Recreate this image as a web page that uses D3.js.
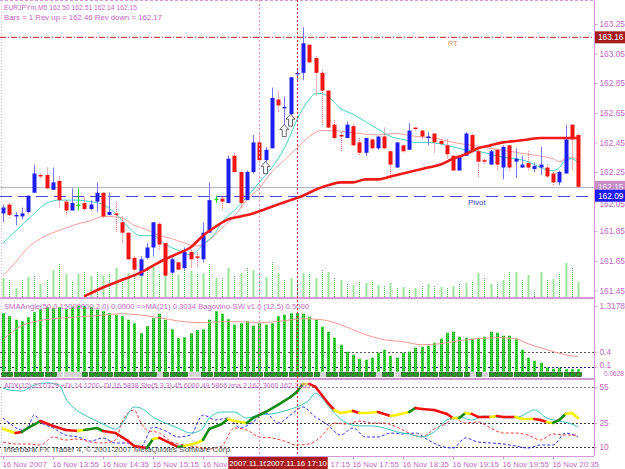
<!DOCTYPE html>
<html>
<head>
<meta charset="utf-8">
<script src="https://cdn.jsdelivr.net/npm/d3@7"></script>
<style>
  body { margin: 0; background: #fff; }
  svg { display: block; font-family: "Liberation Sans", Arial, sans-serif; }
  .axis text { fill: #c468c4; font-size: 8.3px; }
  .taxis text { font-size: 7.8px; }
  .axis path, .axis line { stroke: #d49ad4; }
</style>
</head>
<body>
<div id="chart"></div>
<script>
// ---- EURJPYm M5, 16 Nov 2007 13:15 .. 20:55 ----
const opens = [161.97,162.03,161.95,161.95,161.98,162.11,162.23,162.23,162.13,162.19,
  162.05,161.99,162.03,162.04,162.00,162.05,162.11,161.96,161.97,161.91,
  161.84,161.67,161.55,161.67,161.74,161.90,161.77,161.57,161.64,161.60,
  161.71,161.68,161.66,161.84,162.07,162.07,162.04,162.36,162.25,162.06,
  162.25,162.45,162.33,162.41,162.74,162.68,162.64,162.91,162.92,163.11,
  163.02,162.92,162.80,162.57,162.50,162.48,162.56,162.45,162.38,162.47,
  162.41,162.49,162.39,162.28,162.43,162.40,162.55,162.53,162.48,162.51,
  162.46,162.43,162.36,162.26,162.36,162.50,162.39,162.33,162.30,162.40,
  162.28,162.43,162.32,162.28,162.31,162.27,162.28,162.28,162.24,162.18,
  162.24,162.57,162.50];
const highs = [162.03,162.04,161.98,162.01,162.09,162.30,162.24,162.28,162.28,162.22,
  162.06,162.14,162.14,162.08,162.06,162.18,162.11,162.11,162.04,161.95,
  161.84,161.68,161.68,161.77,161.91,161.91,161.77,161.67,161.64,161.74,
  161.72,161.71,161.91,162.18,162.09,162.08,162.36,162.38,162.26,162.26,
  162.50,162.51,162.42,162.82,162.80,162.76,162.89,162.94,163.23,163.11,
  163.03,162.94,162.80,162.60,162.52,162.59,162.57,162.48,162.48,162.47,
  162.49,162.55,162.39,162.45,162.43,162.58,162.55,162.53,162.52,162.51,
  162.47,162.47,162.36,162.35,162.52,162.51,162.40,162.34,162.40,162.40,
  162.43,162.43,162.41,162.36,162.39,162.31,162.42,162.30,162.25,162.26,
  162.57,162.57,162.51];
const lows = [161.91,161.94,161.89,161.93,161.97,162.11,162.20,162.13,162.13,162.01,
  161.95,161.99,161.99,161.99,161.99,161.98,161.94,161.96,161.84,161.77,
  161.66,161.57,161.55,161.66,161.68,161.72,161.55,161.56,161.59,161.59,
  161.60,161.61,161.64,161.84,162.04,161.99,162.04,162.24,162.01,162.06,
  162.24,162.31,162.26,162.41,162.65,162.55,162.64,162.86,162.87,162.99,
  162.76,162.57,162.55,162.47,162.39,162.48,162.43,162.36,162.36,162.40,
  162.40,162.40,162.20,162.28,162.38,162.40,162.53,162.47,162.43,162.38,
  162.43,162.34,162.26,162.26,162.36,162.38,162.21,162.30,162.30,162.26,
  162.20,162.26,162.21,162.28,162.26,162.25,162.23,162.21,162.16,162.16,
  162.24,162.26,162.14];
const closes = [162.01,161.96,161.96,161.97,162.09,162.24,162.22,162.14,162.18,162.06,
  161.99,162.04,162.03,162.00,162.03,162.11,161.95,161.98,161.96,161.84,
  161.66,161.59,161.66,161.74,161.91,161.76,161.55,161.66,161.59,161.71,
  161.66,161.67,161.84,162.06,162.07,162.05,162.34,162.25,162.04,162.25,
  162.45,162.33,162.40,162.75,162.70,162.69,162.89,162.92,163.12,162.99,
  162.92,162.80,162.55,162.48,162.49,162.57,162.43,162.38,162.48,162.41,
  162.49,162.41,162.30,162.45,162.39,162.53,162.54,162.49,162.49,162.45,
  162.44,162.37,162.26,162.35,162.51,162.39,162.32,162.32,162.39,162.30,
  162.42,162.28,162.34,162.30,162.28,162.29,162.30,162.22,162.18,162.25,
  162.47,162.47,162.15];
const volumes = [19,17,9,17,20,21,13,17,27,33,
  23,16,23,25,21,25,21,24,29,19,
  24,22,24,27,30,24,29,24,22,27,
  26,24,24,34,19,19,29,22,24,29,
  27,25,20,35,24,17,19,15,24,24,
  19,27,25,19,17,14,12,15,14,15,
  12,12,14,10,10,8,9,12,13,12,
  10,10,11,14,14,16,24,20,13,14,
  17,26,25,17,22,6,25,18,18,23,
  34,29,15];

// moving averages: [bar, price]
const maFast = [[0,161.77],[3,161.89],[5,161.97],[7,162.04],[9,162.06],[12,162.06],[14,162.05],[16,162.03],
  [18,161.97],[20,161.88],[22,161.82],[24,161.82],[26,161.76],[28,161.72],[30,161.69],[32,161.76],[34,161.84],
  [35,161.91],[37,161.99],[39,162.08],[41,162.18],[43,162.28],[45,162.41],[46,162.50],[47,162.60],[48,162.68],
  [49,162.74],[50,162.78],[51,162.78],[52,162.76],[54,162.68],[56,162.64],[58,162.59],[60,162.54],[62,162.49],
  [64,162.47],[66,162.45],[68,162.45],[70,162.44],[72,162.42],[74,162.40],[76,162.39],[78,162.37],[80,162.35],
  [82,162.34],[84,162.32],[86,162.28],[88,162.26],[89,162.28],[90,162.33],[91,162.34],[92,162.31]];
const maMid = [[0,161.55],[2,161.64],[4,161.74],[6,161.80],[8,161.84],[10,161.87],[12,161.90],[14,161.92],
  [16,161.95],[17,161.95],[19,161.94],[21,161.89],[23,161.86],[25,161.82],[27,161.80],[29,161.77],[31,161.75],
  [33,161.79],[35,161.87],[37,161.95],[39,162.06],[41,162.14],[43,162.25],[45,162.33],[47,162.41],[49,162.49],
  [51,162.53],[53,162.53],[55,162.52],[57,162.51],[60,162.50],[63,162.51],[66,162.49],[69,162.48],[72,162.45],
  [75,162.43],[78,162.41],[81,162.39],[84,162.37],[87,162.35],[88,162.34],[89,162.32],[90,162.34],[91,162.35],[92,162.33]];
const maSlow = [[13,161.41],[16,161.47],[19,161.52],[22,161.57],[25,161.64],[28,161.70],[30,161.74],[32,161.82],
  [34,161.88],[36,161.93],[38,161.95],[40,161.97],[42,162.00],[44,162.03],[46,162.06],[48,162.09],[50,162.13],
  [52,162.16],[54,162.18],[56,162.18],[58,162.20],[60,162.20],[62,162.22],[64,162.24],[66,162.26],[68,162.28],
  [70,162.30],[72,162.34],[74,162.37],[76,162.41],[78,162.43],[80,162.45],[82,162.46],[84,162.47],[86,162.48],
  [88,162.48],[90,162.48],[92,162.48]];

// up-arrow signals: [bar, price]
const arrows = [[42,162.28],[45,162.53],[46,162.60]];

// levels
const rtLevel = 163.16, pivotLevel = 162.09, bidLevel = 162.15;
const priceTicks = [163.25,163.05,162.85,162.65,162.45,162.25,162.05,161.85,161.65,161.45];

// SMA angle histogram + its MA
const angle = [1.17,1.11,1.04,1.01,1.09,1.19,1.25,1.29,1.27,1.29,
  1.25,1.30,1.32,1.31,1.29,1.24,1.21,1.17,1.14,1.11,
  1.04,0.97,0.77,0.91,1.07,1.16,1.04,0.85,0.67,0.69,
  0.77,0.83,0.85,1.04,1.21,1.16,1.05,0.94,0.97,1.01,
  0.92,0.97,0.94,0.97,1.11,1.14,1.17,1.17,1.16,1.10,
  1.04,0.90,0.80,0.68,0.54,0.40,0.34,0.26,0.24,0.28,
  0.38,0.44,0.32,0.28,0.38,0.40,0.48,0.50,0.52,0.58,
  0.66,0.78,0.80,0.70,0.68,0.66,0.68,0.70,0.80,0.78,
  0.72,0.72,0.66,0.44,0.28,0.22,0.18,0.08,0.06,0.08,
  0.05,0.05,0.05];
const angleMA = [[0,0.64],[3,0.92],[5,1.00],[10,1.08],[15,1.12],[19,1.16],[24,1.10],[29,1.00],[32,0.98],
  [35,1.00],[38,1.00],[41,0.98],[45,1.02],[48,1.06],[51,1.04],[54,0.94],[58,0.74],[61,0.64],[64,0.60],
  [67,0.54],[70,0.56],[73,0.62],[76,0.66],[79,0.68],[82,0.66],[84,0.56],[87,0.44],[90,0.34],[92,0.30]];
const angleTicks = [1.3178, 0.4, 0.1];
const bagoFlat = [9,10,11,12,25,30,31,51,60,63,75,77]; // bars with grey Bagovino box

// ADX panel: [bar, value, colour of the segment that starts here]
const adx = [[0,20.3,"Y"],[2,16.9,"R"],[3,17.8,"G"],[4,21.1,"G"],[6,26.9,"R"],[8,22.8,"R"],[10,19.4,"R"],
  [12,18.6,"Y"],[13,19.4,"G"],[15,21.1,"G"],[16,18.6,"R"],[18,16.9,"R"],[20,10.3,"R"],[21,6.1,"R"],
  [23,4.4,"G"],[24,11.9,"Y"],[25,12.8,"R"],[27,7.8,"R"],[28,5.3,"G"],[29,6.1,"Y"],[31,8.6,"Y"],
  [32,11.1,"G"],[33,20.3,"G"],[35,24.4,"G"],[36,28.6,"Y"],[37,26.9,"Y"],[39,25.3,"G"],[40,29.4,"G"],
  [42,34.4,"G"],[44,40.3,"G"],[46,46.9,"G"],[47,51.1,"G"],[48,57.8,"Y"],[49,57.8,"R"],[50,55.3,"R"],
  [52,41.9,"R"],[53,36.1,"Y"],[54,33.6,"Y"],[56,35.3,"R"],[57,33.6,"Y"],[58,33.6,"Y"],[60,34.4,"R"],
  [62,31.1,"Y"],[63,31.9,"Y"],[65,34.4,"G"],[66,37.8,"R"],[67,36.9,"R"],[69,36.1,"R"],[71,32.8,"R"],
  [72,29.4,"Y"],[73,29.4,"G"],[74,33.6,"Y"],[75,32.8,"R"],[76,30.3,"R"],[78,30.3,"Y"],[79,31.1,"R"],
  [80,30.3,"R"],[82,30.3,"Y"],[83,28.6,"Y"],[85,28.6,"R"],[86,27.8,"R"],[87,26.1,"Y"],[88,25.3,"G"],
  [89,27.8,"G"],[90,32.8,"Y"],[91,33.6,"Y"],[92,29.4,"Y"]];
const adxCyan = [[0,54.4],[1,52.8],[3,51.9],[5,56.9],[7,58.6],[9,56.9],[10,46.1],[12,35.2],[14,29.4],
  [16,24.4],[18,20.2],[19,24.4],[21,38.6],[22,37.8],[24,30.2],[26,25.2],[28,21.1],[30,16.9],[31,17.8],
  [32,21.1],[33,29.4],[35,34.4],[37,34.4],[39,29.4],[41,31.9],[43,32.8],[45,35.2],[47,38.6],[49,44.4],
  [50,50.2],[51,46.1],[53,33.6],[55,25.2],[57,22.8],[59,22.8],[61,21.1],[63,17.8],[65,16.1],[67,13.6],
  [69,17.8],[71,27.8],[73,30.2],[75,27.8],[77,31.1],[79,30.2],[81,29.4],[83,31.1],[85,36.1],[87,29.4],
  [89,26.9],[91,24.4],[92,21.9]];
const plusDI = [[0,29.4],[1,25.2],[3,19.4],[4,21.9],[5,31.9],[6,26.1],[8,21.1],[10,15.2],[12,13.6],
  [14,10.2],[16,12.8],[18,8.6],[20,8.6],[22,5.3],[24,21.9],[26,18.6],[28,13.6],[30,15.2],[32,31.9],
  [34,27.8],[36,29.4],[38,21.1],[40,26.1],[42,33.6],[44,25.2],[46,31.9],[48,38.6],[50,30.2],[52,23.6],
  [54,15.2],[56,21.1],[58,13.6],[60,13.6],[62,16.9],[64,16.1],[66,16.9],[68,11.1],[70,6.1],[72,4.4],
  [74,12.8],[76,9.4],[78,8.6],[80,7.8],[82,6.1],[84,4.4],[86,6.9],[88,6.9],[90,16.9],[92,13.6]];
const minusDI = [[0,9.4],[2,7.8],[4,7.8],[6,6.9],[8,13.6],[10,11.1],[12,11.9],[14,9.4],[16,8.6],
  [18,11.1],[19,25.2],[20,33.6],[21,36.1],[22,26.1],[23,19.4],[25,16.9],[27,9.4],[29,6.9],[31,5.3],
  [33,3.6],[35,6.1],[37,21.1],[39,19.4],[41,13.6],[43,12.8],[45,10.2],[47,6.9],[49,7.8],[51,14.4],
  [53,25.2],[55,24.4],[57,26.9],[59,25.2],[61,25.2],[63,21.9],[65,16.9],[67,13.6],[69,20.2],[71,25.2],
  [72,29.4],[74,25.2],[76,26.1],[78,21.1],[80,16.9],[82,16.9],[84,15.2],[86,11.1],[88,16.1],[90,15.2],[92,15.2]];
const adxTicks = [55, 25, 5];

// time axis (labels hidden behind the cursor tags show only their visible part)
const timeTickBars = [0,8,16,24,32,40,48,56,64,72,80,88];
const timeLabels = ["16 Nov 2007","16 Nov 13:55","16 Nov 14:35","16 Nov 15:15","16 Nov","",
  "17:15","16 Nov 17:55","16 Nov 18:35","16 Nov 19:15","16 Nov 19:55","16 Nov 20:35"];
const vLines = [[41,"2007.11.16","#e596a8"],[47,"2007.11.16 17:10","#c8282d"]];

// ---------------------------------------------------------
const W = 625, H = 469, axisX = 594;
const P1 = [0, 297], P2 = [299, 378], P3 = [380, 456];
const VIOLET = "#c468c4", FRAME = "#d49ad4";

const svg = d3.select("#chart").append("svg").attr("width", W).attr("height", H);
const defs = svg.append("defs");
[["c1", P1], ["c2", P2], ["c3", P3]].forEach(([id, p]) => {
  defs.append("clipPath").attr("id", id).append("rect")
    .attr("x", 0).attr("y", p[0]).attr("width", axisX).attr("height", p[1] - p[0]);
});
const pat = defs.append("pattern").attr("id", "dith").attr("width", 2).attr("height", 2)
  .attr("patternUnits", "userSpaceOnUse");
pat.append("rect").attr("width", 2).attr("height", 2).attr("fill", "#3cd83c");
pat.append("rect").attr("width", 1).attr("height", 1).attr("fill", "#138f13");

const x = d3.scaleLinear().domain([0, 92]).range([3, 578]);
const yP = d3.scaleLinear().domain([161.45, 163.25]).range([290.4, 24]);
const yV = d3.scaleLinear().domain([0, 50]).range([297, 247]);
const yA = d3.scaleLinear().domain([0, 1.3178]).range([371.7, 305.8]);
const yD = d3.scaleLinear().domain([5, 55]).range([447.3, 387.3]);

const g1 = svg.append("g").attr("clip-path", "url(#c1)");
const g2 = svg.append("g").attr("clip-path", "url(#c2)");
const g3 = svg.append("g").attr("clip-path", "url(#c3)");

const label = (g, xx, yy, txt, len, fill = VIOLET) =>
  g.append("text").attr("x", xx).attr("y", yy).attr("fill", fill).attr("font-size", 8)
    .attr("textLength", len).attr("lengthAdjust", "spacingAndGlyphs").text(txt);

// ---- panel 1 ----
g1.selectAll("line.vol").data(volumes).join("line")
  .attr("x1", (d, i) => Math.round(x(i)) + 0.5).attr("x2", (d, i) => Math.round(x(i)) + 0.5)
  .attr("y1", yV(0)).attr("y2", d => yV(d))
  .attr("stroke", (d, i) => (i % 2 ? "#3fbf3f" : "#9be49b"))
  .attr("stroke-width", (d, i) => (i % 2 ? 1 : 2))
  .attr("stroke-dasharray", (d, i) => (i % 2 ? "1,1" : null));

g1.append("line").attr("x1", 0).attr("x2", axisX).attr("y1", yP(rtLevel)).attr("y2", yP(rtLevel))
  .attr("stroke", "#c41a1a").attr("stroke-dasharray", "6,2,1,2");
g1.append("text").attr("x", 448).attr("y", yP(rtLevel) + 9).attr("fill", "#e8906a")
  .attr("font-size", 7.5).text("RT");
g1.append("line").attr("x1", 0).attr("x2", axisX).attr("y1", Math.round(yP(bidLevel)) + 0.5)
  .attr("y2", Math.round(yP(bidLevel)) + 0.5).attr("stroke", "#b4b4c8");
g1.append("line").attr("x1", 0).attr("x2", axisX).attr("y1", Math.round(yP(pivotLevel)) + 0.5)
  .attr("y2", Math.round(yP(pivotLevel)) + 0.5).attr("stroke", "#4848d8").attr("stroke-dasharray", "12,6");
g1.append("text").attr("x", 468).attr("y", yP(pivotLevel) + 9).attr("fill", "#4040c8")
  .attr("font-size", 8).text("Pivot");

const maLine = (yS) => d3.line().x(d => x(d[0])).y(d => yS(d[1])).curve(d3.curveMonotoneX);
g1.append("path").datum(maMid).attr("d", maLine(yP)).attr("fill", "none").attr("stroke", "#f3a29c").attr("stroke-width", 1);
g1.append("path").datum(maFast).attr("d", maLine(yP)).attr("fill", "none").attr("stroke", "#48d2c4").attr("stroke-width", 1);

const bars = opens.map((o, i) => ({ i, o, h: highs[i], l: lows[i], c: closes[i] }));
const kind = d => (d.c > d.o ? "up" : d.c < d.o ? "dn" : "eq");
const wickCol = { up: "#7474ff", dn: "#ff6a6a", eq: "#22d022" };
const bodyCol = { up: "#1e1ef0", dn: "#f01414", eq: "#22d022" };
g1.selectAll("line.wick").data(bars).join("line")
  .attr("x1", d => Math.round(x(d.i)) + 0.5).attr("x2", d => Math.round(x(d.i)) + 0.5)
  .attr("y1", d => yP(d.h)).attr("y2", d => yP(d.l))
  .attr("stroke", d => wickCol[kind(d)])
  .attr("stroke-dasharray", d => (kind(d) === "dn" ? "1,1" : null));
g1.selectAll("rect.body").data(bars).join("rect")
  .attr("x", d => Math.round(x(d.i)) - 1.5).attr("width", 4)
  .attr("y", d => Math.min(yP(d.o), yP(d.c)))
  .attr("height", d => Math.max(1.5, Math.abs(yP(d.o) - yP(d.c))))
  .attr("fill", d => bodyCol[kind(d)]);

g1.append("path").datum(maSlow).attr("d", maLine(yP)).attr("fill", "none").attr("stroke", "#f01a1a").attr("stroke-width", 2.6);

g1.selectAll("path.arrow").data(arrows).join("path")
  .attr("transform", d => `translate(${x(d[0])},${yP(d[1])})`)
  .attr("d", "M0,-6 L4.5,-1 L2,-1 L2,6 L-2,6 L-2,-1 L-4.5,-1 Z")
  .attr("fill", "#fff").attr("stroke", "#555").attr("stroke-width", 0.9);

// ---- panel 2 ----
[[0.4, "#555"], [0.1, "#1c1c70"]].forEach(([v, c]) => {
  g2.append("line").attr("x1", 0).attr("x2", axisX).attr("y1", Math.round(yA(v)) + 0.5).attr("y2", Math.round(yA(v)) + 0.5)
    .attr("stroke", c).attr("stroke-dasharray", "2,2");
});
g2.selectAll("rect.ang").data(angle).join("rect")
  .attr("x", (d, i) => Math.round(x(i)) - 1).attr("width", 3)
  .attr("y", d => yA(d)).attr("height", d => yA(0) - yA(d))
  .attr("fill", "url(#dith)");
g2.selectAll("rect.bago").data(angle).join("rect")
  .attr("x", (d, i) => Math.round(x(i)) - 1.5).attr("width", 5)
  .attr("y", 372.5).attr("height", 4)
  .attr("fill", (d, i) => (bagoFlat.includes(i) ? "#d4d4d4" : "#1f9a1f"))
  .attr("stroke", (d, i) => (bagoFlat.includes(i) ? "#c8c8c8" : "#0a3a0a")).attr("stroke-width", 0.6);
g2.append("path").datum(angleMA).attr("d", maLine(yA)).attr("fill", "none").attr("stroke", "#f29a92").attr("stroke-width", 1);
label(g2, 4, 309, "SMAAngle(50,0.15000000,2,0) 0.0000  =>MA(21) 0.3034  Bagovino-SW v1.0 (12,5) 0.5000", 305);

// ---- panel 3 ----
[[55, "#777"], [25, "#333"], [5, "#333"]].forEach(([v, c]) => {
  g3.append("line").attr("x1", 0).attr("x2", axisX).attr("y1", Math.round(yD(v)) + 0.5).attr("y2", Math.round(yD(v)) + 0.5)
    .attr("stroke", c).attr("stroke-dasharray", "2,2");
});
g3.append("path").datum(plusDI).attr("d", maLine(yD)).attr("fill", "none").attr("stroke", "#3030ff").attr("stroke-dasharray", "3,2");
g3.append("path").datum(minusDI).attr("d", maLine(yD)).attr("fill", "none").attr("stroke", "#ff4040").attr("stroke-dasharray", "3,2");
g3.append("path").datum(adxCyan).attr("d", maLine(yD)).attr("fill", "none").attr("stroke", "#40c4bc");
const adxCol = { G: "#138a13", Y: "#f8f000", R: "#f01010" };
g3.selectAll("line.adx").data(adx.slice(0, -1)).join("line")
  .attr("x1", d => x(d[0])).attr("y1", d => yD(d[1]))
  .attr("x2", (d, k) => x(adx[k + 1][0])).attr("y2", (d, k) => yD(adx[k + 1][1]))
  .attr("stroke", d => adxCol[d[2]]).attr("stroke-width", 2.6).attr("stroke-linecap", "round");
label(g3, 4, 388, "ADX(12) 23.0329 +DI 14.1200 -DI 16.5838 Sto(5,3,3) 45.6000 49.5866 Ima 2 162.3060 162.3160", 306);
label(g3, 4, 452, "Interbank FX Trader 4, © 2001-2007 MetaQuotes Software Corp.", 228, "#555");

// ---- frames ----
[297.5, 298.5, 378.5, 379.5, 456.5].forEach(yy => {
  svg.append("line").attr("x1", 0).attr("x2", axisX).attr("y1", yy).attr("y2", yy).attr("stroke", FRAME);
});
svg.append("line").attr("x1", 0).attr("x2", axisX).attr("y1", 0.5).attr("y2", 0.5).attr("stroke", FRAME).attr("stroke-dasharray", "3,2");
svg.append("line").attr("x1", 1.5).attr("x2", 1.5).attr("y1", 0).attr("y2", 456).attr("stroke", "#f0b8c8").attr("stroke-dasharray", "1,2");

vLines.forEach(([b, , c]) => {
  svg.append("line").attr("x1", Math.round(x(b)) + 0.5).attr("x2", Math.round(x(b)) + 0.5)
    .attr("y1", 0).attr("y2", 456).attr("stroke", c).attr("stroke-dasharray", "2,2");
});

label(svg, 4, 10, "EURJPYm,M5  162.50 162.51 162.14 162.15", 133);
label(svg, 4, 20, "Bars = 1 Rev up =  162.46 Rev down = 162.17", 158);

// ---- price axis ----
const ax = svg.append("g").attr("class", "axis").attr("transform", `translate(${axisX + 0.5},0)`)
  .call(d3.axisRight(yP).tickValues(priceTicks).tickFormat(d3.format(".2f")).tickSize(3).tickPadding(2));
ax.select(".domain").attr("d", "M0,0V456");
ax.selectAll(".tick").filter(d => d === 162.05).select("text").attr("dy", "0.62em");

const tag = (v, txt, bg, fg) => {
  const yy = yP(v);
  svg.append("rect").attr("x", axisX + 1).attr("y", yy - 6).attr("width", 30).attr("height", 12).attr("fill", bg);
  svg.append("text").attr("x", axisX + 4).attr("y", yy + 3).attr("fill", fg).attr("font-size", 8.3).text(txt);
};
tag(bidLevel, "162.15", "#c690c6", "#f6e6f6");
tag(rtLevel, "163.16", "#a51c1c", "#fff");
tag(pivotLevel, "162.09", "#1c1cf0", "#fff");

const ax2 = svg.append("g").attr("class", "axis").attr("transform", `translate(${axisX + 0.5},0)`)
  .call(d3.axisRight(yA).tickValues(angleTicks).tickFormat(d => (d > 1 ? d.toFixed(4) : d)).tickSize(3).tickPadding(2));
ax2.select(".domain").remove();
ax2.selectAll(".tick").filter(d => d === 0.1).select("text").attr("dy", "0.1em");
svg.append("text").attr("x", 604).attr("y", 376).attr("fill", VIOLET).attr("font-size", 6.5).text("0.0628");

const ax3 = svg.append("g").attr("class", "axis").attr("transform", `translate(${axisX + 0.5},0)`)
  .call(d3.axisRight(yD).tickValues(adxTicks).tickFormat(d => (d === 5 ? "10" : d)).tickSize(3).tickPadding(2));
ax3.select(".domain").remove();

// ---- time axis ----
const tx = svg.append("g").attr("class", "axis taxis").attr("transform", "translate(0,456.5)")
  .call(d3.axisBottom(x).tickValues(timeTickBars).tickFormat((d, i) => timeLabels[i]).tickSize(3).tickPadding(2));
tx.select(".domain").remove();
tx.selectAll(".tick text").attr("text-anchor", "start").attr("dx", (d, i) => (timeLabels[i] === "17:15" ? 27 : -1));

vLines.forEach(([b, txt], k) => {
  const cx = x(b);
  svg.append("rect").attr("x", cx - 31).attr("y", 457).attr("width", 62).attr("height", 12).attr("fill", "#a81e1e");
  svg.append("text").attr("x", k === 0 ? cx - 30 : cx).attr("y", 466)
    .attr("text-anchor", k === 0 ? "start" : "middle").attr("fill", "#fff")
    .attr("font-size", 7.8).text(txt);
});
</script>
</body>
</html>
